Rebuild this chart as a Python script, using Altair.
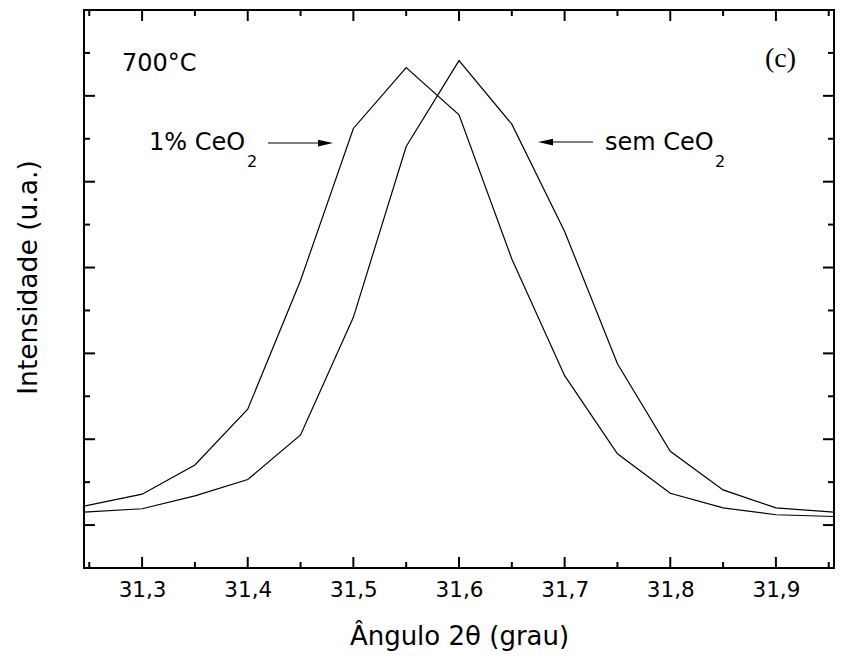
import altair as alt
import pandas as pd

# ---- data ----
two_theta = [31.245, 31.30, 31.35, 31.40, 31.45, 31.50, 31.55, 31.60,
             31.65, 31.70, 31.75, 31.80, 31.85, 31.90, 31.955]
with_ceo2 = [0.22, 0.36, 0.70, 1.35, 2.85, 4.62, 5.33, 4.78,
             3.10, 1.74, 0.83, 0.37, 0.20, 0.12, 0.10]
without_ceo2 = [0.15, 0.19, 0.34, 0.53, 1.05, 2.42, 4.41, 5.41,
                4.67, 3.42, 1.88, 0.86, 0.41, 0.20, 0.15]
series_names = ["1% CeO2", "sem CeO2"]

x_major = [31.3, 31.4, 31.5, 31.6, 31.7, 31.8, 31.9]
x_minor = [31.25, 31.35, 31.45, 31.55, 31.65, 31.75, 31.85, 31.95]
y_major = [0, 1, 2, 3, 4, 5]
y_minor = [0.5, 1.5, 2.5, 3.5, 4.5, 5.5]

X_DOMAIN = [31.245, 31.955]
Y_DOMAIN = [-0.5, 6.0]
W, H = 750, 558
FONT = "DejaVu Sans"

rows = []
for name, vals in zip(series_names, [with_ceo2, without_ceo2]):
    for x, y in zip(two_theta, vals):
        rows.append({"x": x, "y": y, "serie": name})
df = pd.DataFrame(rows)

xs = alt.Scale(domain=X_DOMAIN, nice=False, zero=False)
ys = alt.Scale(domain=Y_DOMAIN, nice=False, zero=False)

x_axis = alt.Axis(values=x_major, ticks=False, domain=False, grid=False,
                  labelExpr="replace(format(datum.value, '.1f'), '.', ',')",
                  labelFontSize=21.5, labelFont=FONT, labelColor="black",
                  labelPadding=11,
                  title="Ângulo 2θ (grau)", titleFont=FONT, titleFontSize=26,
                  titleFontWeight="normal", titleColor="black", titlePadding=23)
y_axis = alt.Axis(labels=False, ticks=False, domain=False, grid=False,
                  title="Intensidade (u.a.)", titleFont=FONT, titleFontSize=26.5,
                  titleFontWeight="normal", titleColor="black", titlePadding=42,
                  titleY=267)

lines = alt.Chart(df).mark_line(color="black", strokeWidth=1.2, clip=True).encode(
    x=alt.X("x:Q", scale=xs, axis=x_axis),
    y=alt.Y("y:Q", scale=ys, axis=y_axis),
    detail="serie:N",
)

def xticks(vals, length):
    d = pd.DataFrame({"x": vals})
    bottom = alt.Chart(d).mark_rule(color="black", strokeWidth=2).encode(
        x=alt.X("x:Q", scale=xs, axis=x_axis),
        y=alt.value(H), y2=alt.value(H - length))
    top = alt.Chart(d).mark_rule(color="black", strokeWidth=2).encode(
        x=alt.X("x:Q", scale=xs, axis=x_axis),
        y=alt.value(0), y2=alt.value(length))
    return [bottom, top]

def yticks(vals, length):
    d = pd.DataFrame({"y": vals})
    left = alt.Chart(d).mark_rule(color="black", strokeWidth=2).encode(
        y=alt.Y("y:Q", scale=ys, axis=y_axis),
        x=alt.value(0), x2=alt.value(length))
    right = alt.Chart(d).mark_rule(color="black", strokeWidth=2).encode(
        y=alt.Y("y:Q", scale=ys, axis=y_axis),
        x=alt.value(W), x2=alt.value(W - length))
    return [left, right]

ticks = xticks(x_major, 11) + xticks(x_minor, 6) + yticks(y_major, 11) + yticks(y_minor, 6)

def label(text, x, y, size=24, font=FONT, align="left"):
    return alt.Chart(pd.DataFrame({"t": [text]})).mark_text(
        font=font, fontSize=size, color="black", align=align, baseline="alphabetic"
    ).encode(text="t:N", x=alt.value(x), y=alt.value(y))

texts = [
    label("700°C", 38, 61),
    label("(c)", 681, 57, size=28, font="Liberation Serif"),
    label("1% CeO", 65, 140),
    label("2", 163, 157, size=16),
    label("sem CeO", 521, 140),
    label("2", 631, 157, size=16),
]

arrow_path = "M-1,-0.45L1,0L-1,0.45Z"
arrow_path_l = "M1,-0.45L-1,0L1,0.45Z"
arrows = [
    alt.Chart(pd.DataFrame({"a": [0]})).mark_rule(color="black", strokeWidth=1.2).encode(
        x=alt.value(184), x2=alt.value(242), y=alt.value(133)),
    alt.Chart(pd.DataFrame({"a": [0]})).mark_point(
        shape=arrow_path, filled=True, color="black", size=225, opacity=1).encode(
        x=alt.value(241.5), y=alt.value(133)),
    alt.Chart(pd.DataFrame({"a": [0]})).mark_rule(color="black", strokeWidth=1.2).encode(
        x=alt.value(460), x2=alt.value(509), y=alt.value(132)),
    alt.Chart(pd.DataFrame({"a": [0]})).mark_point(
        shape=arrow_path_l, filled=True, color="black", size=225, opacity=1).encode(
        x=alt.value(461.5), y=alt.value(132)),
]

chart = alt.layer(lines, *ticks, *texts, *arrows).properties(
    width=W, height=H,
    padding={"left": 84, "top": 10, "right": 16, "bottom": 91},
    autosize=alt.AutoSizeParams(type="none"),
    background="white",
).configure_view(stroke="black", strokeWidth=2)

chart.save("out.html", embed_options={"renderer": "svg", "actions": False})
